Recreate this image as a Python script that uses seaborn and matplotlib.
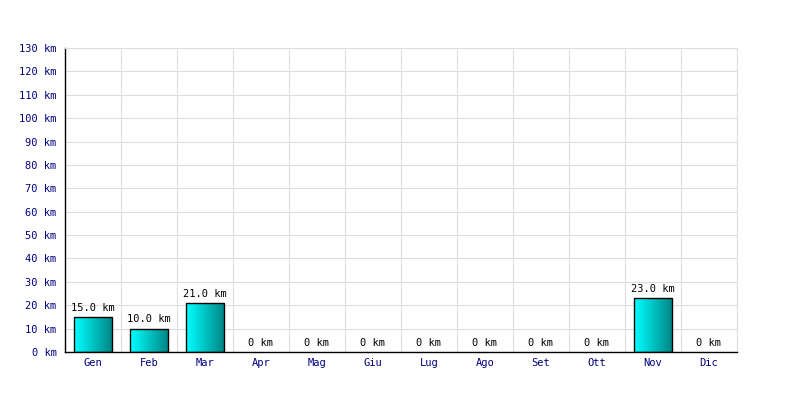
import numpy as np
import pandas as pd
import matplotlib
matplotlib.use("Agg")
import matplotlib.pyplot as plt
from matplotlib.colors import LinearSegmentedColormap
from matplotlib.ticker import MultipleLocator, FixedLocator
import seaborn as sns

# data
MONTHS = ["Gen", "Feb", "Mar", "Apr", "Mag", "Giu",
          "Lug", "Ago", "Set", "Ott", "Nov", "Dic"]
KM = [15.0, 10.0, 21.0, 0, 0, 0, 0, 0, 0, 0, 23.0, 0]
Y_MAX = 130

sns.set_theme(style="white")
plt.rcParams["font.family"] = ["DejaVu Sans Mono"]

df = pd.DataFrame({"month": MONTHS, "km": KM})

fig = plt.figure(figsize=(8, 4), dpi=100)
ax = fig.add_axes([0.08125, 0.12, 0.84, 0.76])

sns.barplot(data=df, x="month", y="km", ax=ax, width=0.68,
            color="#00cccc", edgecolor="black", linewidth=1)

# gradient fill for each bar
cmap = LinearSegmentedColormap.from_list("cyan", ["#00ffff", "#008585"])
grad = np.linspace(0, 1, 64).reshape(1, -1)
for p in ax.patches:
    h = p.get_height()
    if h <= 0:
        p.set_visible(False)
        continue
    x0, w = p.get_x(), p.get_width()
    p.set_facecolor("none")
    im = ax.imshow(grad, cmap=cmap, aspect="auto", extent=(x0, x0 + w, 0, h),
                   zorder=p.get_zorder() - 0.1, interpolation="bilinear")
    im.set_clip_path(p)

# value labels
for i, v in enumerate(KM):
    lbl = f"{v:.1f} km" if v > 0 else "0 km"
    ax.annotate(lbl, (i, v), xytext=(0, 3), textcoords="offset points",
                ha="center", va="bottom", fontsize=7.5, color="black")

ax.set_xlim(-0.5, len(MONTHS) - 0.5)
ax.set_ylim(0, Y_MAX)
ax.yaxis.set_major_locator(MultipleLocator(10))
ax.set_yticklabels([f"{int(t)} km" for t in ax.get_yticks()])
ax.xaxis.set_minor_locator(FixedLocator(np.arange(0.5, len(MONTHS) - 0.5, 1)))

ax.grid(True, axis="y", color="#dddddd", linewidth=0.8)
ax.grid(True, axis="x", which="minor", color="#dddddd", linewidth=0.8)
ax.set_axisbelow(True)

ax.set_xlabel("")
ax.set_ylabel("")
ax.tick_params(axis="both", which="both", length=0, labelsize=7.5,
               labelcolor="#000080", pad=4)
ax.tick_params(axis="y", pad=6)

for s in ["top", "right"]:
    ax.spines[s].set_color("#dddddd")
    ax.spines[s].set_linewidth(0.8)
for s in ["left", "bottom"]:
    ax.spines[s].set_color("black")
    ax.spines[s].set_linewidth(1)

fig.savefig("out.png", dpi=100)
